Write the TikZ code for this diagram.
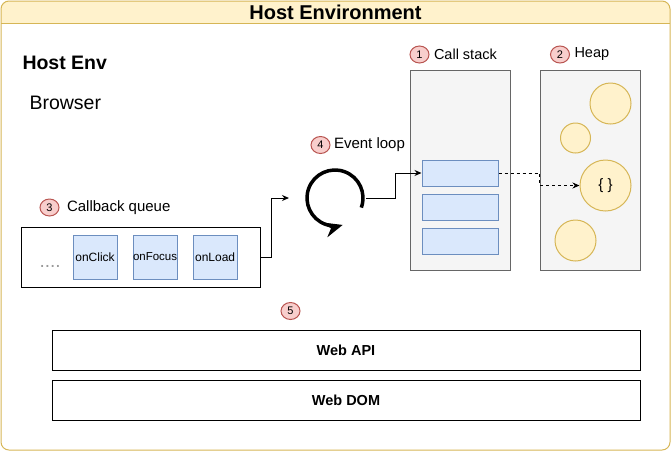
\documentclass[tikz,border=0pt]{standalone}
\usepackage{fontspec}
\setmainfont{Liberation Sans}
\usetikzlibrary{positioning,arrows.meta,shapes.geometric}
\usepackage{xcolor}

\definecolor{hostfill}{HTML}{FFF2CC}
\definecolor{hostline}{HTML}{D6B656}
\definecolor{badgefill}{HTML}{F8CECC}
\definecolor{badgeline}{HTML}{B85450}
\definecolor{framefill}{HTML}{DAE8FC}
\definecolor{frameline}{HTML}{6C8EBF}
\definecolor{areafill}{HTML}{F5F5F5}
\definecolor{arealine}{HTML}{666666}

\begin{document}
\begin{tikzpicture}[x=1pt, y=-1pt, line width=1pt, >={Stealth[length=7pt,width=6pt]},
    badge/.style={ellipse, draw=badgeline, fill=badgefill, minimum width=19pt, minimum height=17pt, inner sep=0pt, font=\fontsize{11}{11}\selectfont},
    caption/.style={inner sep=0pt, font=\fontsize{15}{15}\selectfont},
    memarea/.style={draw=arealine, fill=areafill, minimum width=100pt, minimum height=200pt, inner sep=0pt},
    stackframe/.style={draw=frameline, fill=framefill, minimum width=76pt, minimum height=26pt, inner sep=0pt},
    handler/.style={draw=frameline, fill=framefill, minimum width=44pt, minimum height=44pt, inner sep=0pt, font=\fontsize{12}{12}\selectfont},
    blob/.style={circle, draw=hostline, fill=hostfill, inner sep=0pt},
    layer/.style={draw, minimum width=588pt, minimum height=40pt, inner sep=0pt, font=\bfseries\fontsize{14.5}{14.5}\selectfont}]
    \useasboundingbox (0,0) rectangle (671,451);

    % host container with its header
    \node (host) [minimum width=669pt, minimum height=449pt, inner sep=0pt, outer sep=0pt] at (335.5,225.5) {};
    \begin{scope}
        \clip [rounded corners=8pt] (host.north west) rectangle (host.south east);
        \fill [hostfill] (host.north west) rectangle ([yshift=-22pt]host.north east);
    \end{scope}
    \draw [hostline, rounded corners=8pt] (host.north west) rectangle (host.south east);
    \draw [hostline] ([yshift=-22pt]host.north west) -- ([yshift=-22pt]host.north east);
    \node (title) [inner sep=0pt, font=\bfseries\fontsize{20}{20}\selectfont] at (335.5,12) {Host Environment};

    \node (hostenv) [anchor=west, inner sep=0pt, font=\bfseries\fontsize{19.5}{19.5}\selectfont] at (22,63) {Host Env};
    \node (browser) [anchor=west, inner sep=0pt, font=\fontsize{19.5}{19.5}\selectfont] at (29,103) {Browser};

    % call stack and heap
    \node (callstack) [memarea] at (460,170) {};
    \node (heap) [memarea] at (590,170) {};
    \node (b1) [badge] at (419.5,54.5) {1};
    \node (cslabel) [caption, right=4pt of b1, font=\fontsize{14.5}{14.5}\selectfont] {Call stack};
    \node (b2) [badge] at (560,54.5) {2};
    \node (heaplabel) [caption, right=4pt of b2, font=\fontsize{14.5}{14.5}\selectfont] {Heap};

    \node (f1) [stackframe] at (460,173) {};
    \node (f2) [stackframe, below=7pt of f1] {};
    \node (f3) [stackframe, below=7pt of f2] {};

    \node (h1) [blob, minimum size=41pt] at (610.5,103.5) {};
    \node (h2) [blob, minimum size=30pt] at (575.5,138) {};
    \node (obj) [blob, minimum size=51pt, font=\fontsize{15}{15}\selectfont] at (605.5,185.5) {\{ \}};
    \node (h4) [blob, minimum size=41pt] at (575.5,240.5) {};

    % event loop
    \node (b4) [badge] at (320.5,145) {4};
    \node (looplabel) [caption, right=3pt of b4] {Event loop};
    \node (loop) [circle, minimum size=61pt, inner sep=0pt] at (335,198) {};
    \draw [line width=3.5pt, -{Stealth[length=18pt 0,width=15pt 0]}] (loop.center) ++(20:28) arc [start angle=20, end angle=-286, radius=28];

    % callback queue
    \node (b3) [badge] at (49.5,207.5) {3};
    \node (queuelabel) [caption, right=7pt of b3] {Callback queue};
    \node (queue) [draw, minimum width=239pt, minimum height=60pt, inner sep=0pt] at (140.5,257) {};
    \node (more) [anchor=base west, inner sep=0pt, text=gray!80, font=\fontsize{19}{19}\selectfont] at (39,267) {....};
    \node (onclick) [handler] at (95,257) {onClick};
    \node (onfocus) [handler, right=15pt of onclick, font=\fontsize{11.5}{11.5}\selectfont] {onFocus};
    \node (onload) [handler, right=15pt of onfocus] {onLoad};

    % web layers
    \node (b5) [badge] at (290.5,311) {5};
    \node (webapi) [layer] at (346,350.5) {Web API};
    \node (webdom) [layer] at (346,400) {Web DOM};

    \draw [->] (queue.east) -- ++(10.5,0) |- ([xshift=-15pt]loop.west);
    \draw [->] (loop.east) -- ++(29,0) |- (f1.west);
    \draw [->, dash pattern=on 3pt off 3pt] (f1.east) -- ++(41,0) |- (obj.west);
\end{tikzpicture}
\end{document}
